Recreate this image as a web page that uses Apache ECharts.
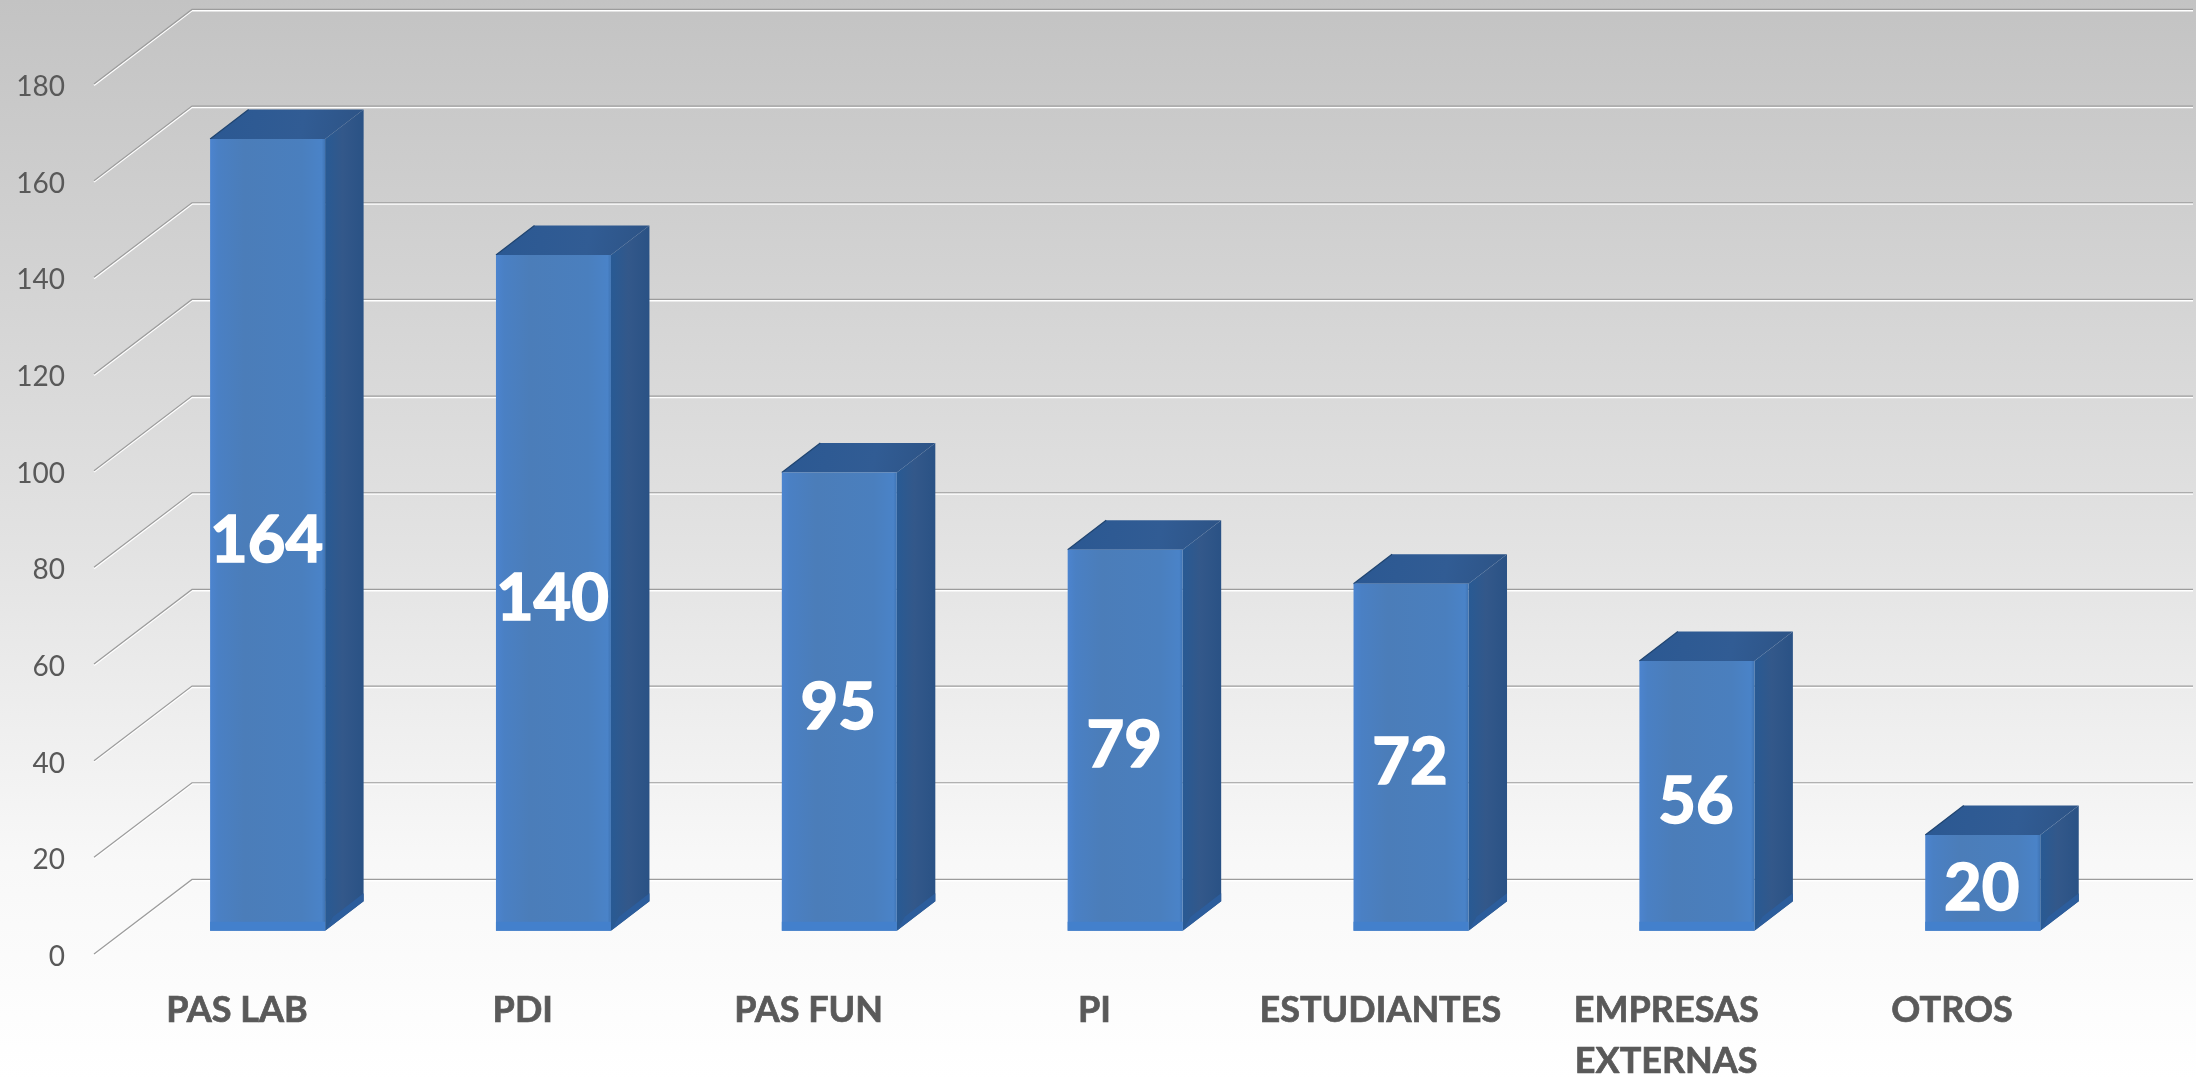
<!DOCTYPE html>
<html>
<head>
<meta charset="utf-8">
<style>html,body{margin:0;padding:0;background:#fff}#chart{width:2196px;height:1079px}</style>
<script src="https://cdn.jsdelivr.net/npm/echarts@6/dist/echarts.min.js"></script>
</head>
<body>
<div id="chart"></div>
<script>
const categories = ['PAS LAB', 'PDI', 'PAS FUN', 'PI', 'ESTUDIANTES', 'EMPRESAS\nEXTERNAS', 'OTROS'];
const values = [164, 140, 95, 79, 72, 56, 20];
const gridTicks = [0, 20, 40, 60, 80, 100, 120, 140, 160, 180];

// Oblique projection of the 3D box
const WALL_DX = 98, WALL_DY = -74.6;
const BAR_OFFSET = 0.313;      // share of the depth at which bars stand
const BAR_DX = 38.5, BAR_DY = -29.5;
const BAR_WIDTH = 115;
const grad = (x, y, x2, y2, stops) => new echarts.graphic.LinearGradient(x, y, x2, y2,
  stops.map((c, i) => ({offset: c[0], color: c[1]})));

function renderWall(params, api) {
  const band = api.size([1, 0])[0];
  const p = api.coord([0, api.value(1)]);
  const x0 = p[0] - band / 2, y = p[1];
  const n = categories.length;
  const pts = off => [[x0, y + off], [x0 + WALL_DX, y + WALL_DY + off], [x0 + WALL_DX + band * n, y + WALL_DY + off]];
  return {type: 'group', silent: true, children: [
    {type: 'polyline', shape: {points: pts(1.3)}, style: {fill: null, stroke: '#ffffff', lineWidth: 1.6}},
    {type: 'polyline', shape: {points: pts(0)}, style: {fill: null, stroke: '#9c9c9c', lineWidth: 1.2}}
  ]};
}

function renderBar(params, api) {
  const top = api.coord([api.value(0), api.value(1)]);
  const base = api.coord([api.value(0), 0]);
  const cx = top[0] + WALL_DX * BAR_OFFSET;
  const dy = WALL_DY * BAR_OFFSET;
  const l = cx - BAR_WIDTH / 2, r = cx + BAR_WIDTH / 2;
  const t = top[1] + dy + 1, b = base[1] + dy;
  const front = grad(0, 0, 1, 0, [[0, '#4c84cf'], [0.07, '#4a80c4'], [0.3, '#4b7db9'], [0.8, '#4a7fbe'], [0.97, '#4a83c8'], [1, '#3f74b4']]);
  return {type: 'group', silent: true, children: [
    {type: 'polygon', shape: {points: [[r, t], [r + BAR_DX, t + BAR_DY], [r + BAR_DX, b + BAR_DY], [r, b]]},
      style: {fill: grad(0, 0, 1, 0, [[0, '#285a94'], [0.45, '#33588a'], [1, '#2a5285']])}},
    {type: 'polygon', shape: {points: [[r, b], [r + BAR_DX, b + BAR_DY], [r + BAR_DX, b + BAR_DY - 8], [r + 8, b - 14]]},
      style: {fill: '#2c5d9c'}},
    {type: 'polygon', shape: {points: [[l, t], [l + BAR_DX, t + BAR_DY], [r + BAR_DX, t + BAR_DY], [r, t]]},
      style: {fill: grad(0, 0, 1, 1, [[0, '#2b5892'], [0.6, '#315c94'], [1, '#2d5385']])}},
    {type: 'polyline', shape: {points: [[l, t], [l + BAR_DX, t + BAR_DY]]},
      style: {fill: null, stroke: '#1f4470', lineWidth: 1.2}},
    {type: 'rect', shape: {x: l, y: t, width: BAR_WIDTH, height: b - t}, style: {fill: front}},
    {type: 'rect', shape: {x: l, y: b - 9, width: BAR_WIDTH, height: 9}, style: {fill: '#4380cc'}},
    {type: 'text', style: {text: String(api.value(1)), x: cx - 1, y: (t + b) / 2 + 6, align: 'center', verticalAlign: 'middle',
      font: 'bold 65px Lato', fill: '#ffffff', stroke: '#ffffff', lineWidth: 1.6}}
  ]};
}

const chart = echarts.init(document.getElementById('chart'), null, {renderer: 'canvas'});
chart.setOption({
  animation: false,
  backgroundColor: new echarts.graphic.LinearGradient(0, 0, 0, 1, [
    {offset: 0, color: '#c3c3c3'}, {offset: 0.5, color: '#e2e2e2'}, {offset: 0.8, color: '#f8f8f8'}, {offset: 1, color: '#ffffff'}
  ]),
  grid: {left: 94, right: 101, top: 84, bottom: 125, outerBoundsMode: 'none'},
  xAxis: {
    type: 'category', data: categories,
    axisLine: {show: false}, axisTick: {show: false}, splitLine: {show: false},
    axisLabel: {interval: 0, margin: 31, color: '#595959', fontFamily: 'Lato', fontWeight: 'bold', fontSize: 36, lineHeight: 51, verticalAlign: 'top',
      textBorderColor: '#595959', textBorderWidth: 0.7}
  },
  yAxis: {
    type: 'value', min: 0, max: 180, interval: 20,
    axisLine: {show: false}, axisTick: {show: false}, splitLine: {show: false},
    axisLabel: {margin: 29, color: '#595959', fontFamily: 'Lato', fontSize: 28, verticalAlign: 'top', lineHeight: 6}
  },
  series: [
    {type: 'custom', name: 'grid', clip: false, silent: true, renderItem: renderWall,
      data: gridTicks.map(v => [0, v]), encode: {x: 0, y: 1}, z: 1},
    {type: 'custom', name: 'bars', clip: false, silent: true, renderItem: renderBar,
      data: values.map((v, i) => [i, v]), encode: {x: 0, y: 1}, z: 2}
  ]
});
</script>
</body>
</html>
